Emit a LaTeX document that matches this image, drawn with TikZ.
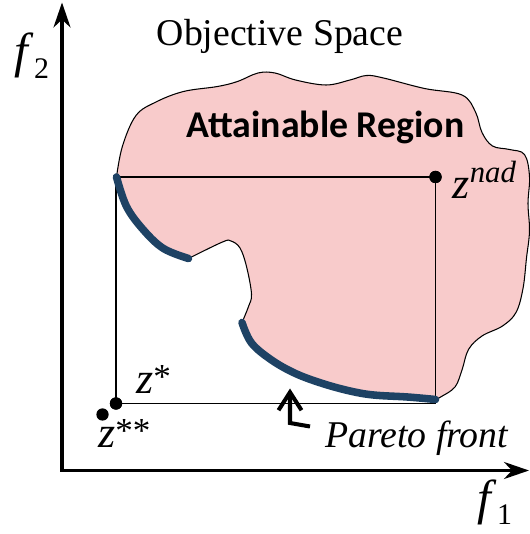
\documentclass[tikz,border=0pt]{standalone}
\usepackage{fontspec}
\setmainfont{Liberation Serif}
\newfontfamily\calibrifont{Carlito}
\usetikzlibrary{arrows.meta}

\definecolor{regionpink}{RGB}{248,203,203}
\definecolor{frontblue}{RGB}{30,66,100}

\tikzset{
  axis/.style={line width=1.9pt, {Stealth[length=5mm, width=3.4mm, inset=1.6mm]}-{Stealth[length=5mm, width=3.4mm, inset=1.6mm]}},
  refpoint/.style={circle, fill=black, inner sep=0pt, minimum size=7pt},
  front/.style={frontblue, line width=4.3pt, line cap=round},
  boxline/.style={line width=0.7pt},
  pointer/.style={line width=2.3pt, -{Straight Barb[length=3.6mm, width=4.6mm]}},
  pointlabel/.style={font=\fontsize{25}{30}\selectfont, anchor=base west},
  axislabel/.style={font=\fontsize{28}{30}\selectfont, anchor=base}
}

\newcommand{\starsup}[1]{{\fontsize{20}{20}\selectfont\raisebox{3pt}{#1}}}

\begin{document}
\begin{tikzpicture}
        \useasboundingbox (0,0) rectangle (10.58,10.68);

        % Attainable region (blob with a notch, corners at the front ends)
        \path[fill=regionpink, draw=black, line width=0.6pt]
          plot[smooth, tension=0.6] coordinates {(2.33,7.14) (2.45,7.76) (2.72,8.37) (3.12,8.64) (3.67,8.85) (4.35,8.95) (4.75,9.05) (5.16,9.22) (5.50,9.22) (5.91,9.08) (6.52,8.98) (7.00,9.08) (7.33,9.17) (7.67,9.12) (8.49,8.91) (9.24,8.78) (9.51,8.44) (9.64,8.03) (9.85,7.76) (10.19,7.69) (10.49,7.59) (10.59,7.15) (10.56,6.61) (10.59,6.06) (10.53,5.52) (10.46,4.91) (10.32,4.43) (10.05,4.16) (9.64,3.96) (9.37,3.69) (9.24,3.28) (9.10,2.94) (8.83,2.75) (8.71,2.69)}
          -- plot[smooth, tension=0.6] coordinates {(8.71,2.69) (8.15,2.74) (7.47,2.78) (7.00,2.86) (6.45,3.01) (5.91,3.21) (5.43,3.48) (5.03,3.82) (4.84,4.23)}
          -- plot[smooth, tension=0.6] coordinates {(4.84,4.23) (4.97,4.55) (5.03,4.80) (4.93,5.35) (4.80,5.72) (4.62,5.86) (4.45,5.84) (3.77,5.51)}
          -- plot[smooth, tension=0.6] coordinates {(3.77,5.51) (3.27,5.71) (2.87,6.08) (2.53,6.55) (2.33,7.14)}
          -- cycle;

        % Axes
        \coordinate (origin) at (1.24,1.27);
        \coordinate (yend) at (1.24,10.63);
        \coordinate (xend) at (10.58,1.27);
        \draw[axis] (yend) -- (origin) -- (xend);
        \node[axislabel] (ftwo) at (0.64,9.32) {\textit{f}{\fontsize{17}{18}\selectfont\raisebox{-5.8pt}{2}}};
        \node[axislabel] (fone) at (9.90,0.39) {\textit{f}{\fontsize{17}{18}\selectfont\raisebox{-5.8pt}{1}}};

        % Ideal, utopian and nadir points
        \node[refpoint] (znad) at (8.71,7.14) {};
        \node[refpoint] (zstar) at (2.32,2.61) {};
        \node[refpoint] (zss) at (2.05,2.39) {};

        % Box spanned by z* and z^nad
        \draw[boxline] (zstar.center) -- (zstar.center |- znad.center) -- (znad.center) -- (znad.center |- zstar.center) -- cycle;

        % Pareto front (two pieces)
        \draw[front] plot[smooth, tension=0.6] coordinates {(2.33,7.14) (2.53,6.55) (2.87,6.08) (3.27,5.71) (3.77,5.51)};
        \draw[front] plot[smooth, tension=0.6] coordinates {(4.84,4.23) (5.03,3.82) (5.43,3.48) (5.91,3.21) (6.45,3.01) (7.00,2.86) (7.47,2.78) (8.15,2.74) (8.71,2.69)};

        % redraw the points on top
        \fill (znad) circle (3.5pt);
        \fill (zstar) circle (3.5pt);

        % Labels
        \node[pointlabel] (nadlabel) at (8.93,6.71) {\textit{z}\textsuperscript{\itshape nad}};
        \node[pointlabel] (starlabel) at (2.60,2.80) {\textit{z}\starsup{*}};
        \node[pointlabel] (sslabel) at (1.84,1.73) {\textit{z}\starsup{**}};
        \node[font=\fontsize{21.5}{25}\selectfont, anchor=base] (spacelabel) at (5.60,9.76) {Objective Space};
        \node[font=\calibrifont\bfseries\fontsize{21.5}{25}\selectfont, anchor=base] (regionlabel) at (6.51,7.93) {Attainable Region};
        \node[font=\itshape\fontsize{21.5}{25}\selectfont, anchor=base west] (frontlabel) at (6.38,1.72) {Pareto front};

        % Pointer to the front
        \coordinate (ptip) at (5.80,2.91);
        \coordinate (pbend) at (5.80,2.22);
        \coordinate (ptail) at (6.20,2.15);
        \draw[pointer] (ptail) -- (pbend) -- (ptip);
\end{tikzpicture}
\end{document}
